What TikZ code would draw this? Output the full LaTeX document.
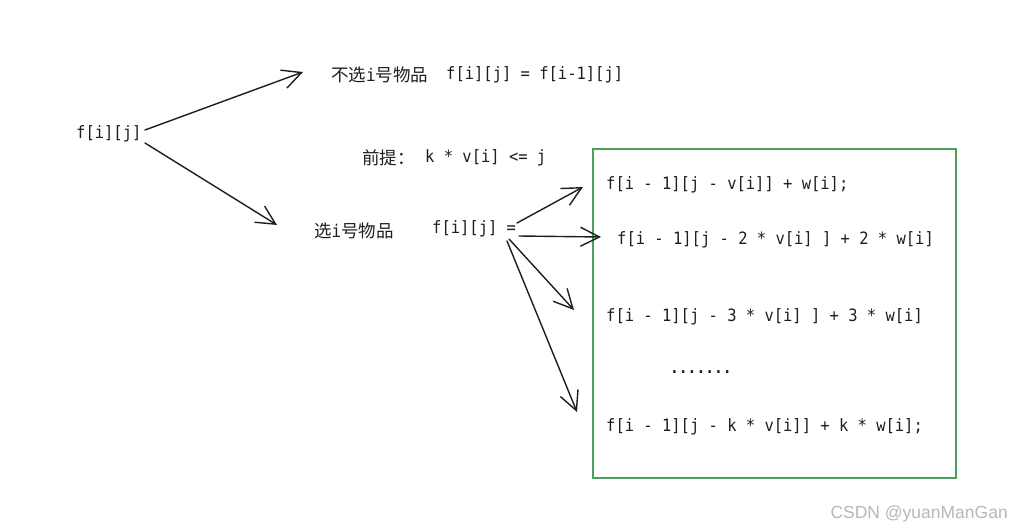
\documentclass[tikz,border=0pt]{standalone}
\usepackage{fontspec}
\setmainfont{DejaVu Sans Mono}
\newfontfamily\hand[FakeStretch=0.91]{DejaVu Sans Mono}
\newfontfamily\cjk{Noto Sans CJK SC}
\newfontfamily\wm{Liberation Sans}
\usetikzlibrary{arrows.meta}
\definecolor{ink}{HTML}{1E1E1E}
\definecolor{boxgreen}{RGB}{76,160,90}
\begin{document}
\begin{tikzpicture}[x=1pt,y=-1pt,
  txt/.style={anchor=west,inner sep=0pt,font=\hand\fontsize{17}{20}\selectfont,text=ink},
  cn/.style={anchor=west,inner sep=0pt,font=\cjk\fontsize{17.5}{20}\selectfont,text=ink},
  arr/.style={draw=ink,line width=1.4pt,line cap=round,-{Straight Barb[length=19pt,width=19pt,line width=1.4pt]}},
]
\useasboundingbox (0,0) rectangle (1011,532);
\fill[white] (0,0) rectangle (1011,532);

% left root
\node[txt] (root) at (76,134) {f[i][j]};

% top branch
\node[cn] (nosel) at (331,75) {不选{\hand i}号物品};
\node[txt] (noseleq) at (446,75) {f[i][j] = f[i-1][j]};

% condition
\node[cn] (premise) at (362,158) {前提：};
\node[txt] (cond) at (425,158) {k * v[i] <= j};

% bottom branch
\node[cn] (sel) at (314,231) {选{\hand i}号物品};
\node[txt] (seleq) at (432,229) {f[i][j] =};

% green box
\node[draw=boxgreen,line width=1.5pt,anchor=north west,minimum width=363pt,minimum height=329pt,inner sep=0pt] (box) at (592,148) {};

\node[txt] (l1) at (606,185) {f[i - 1][j - v[i]] + w[i];};
\node[txt] (l2) at (617,240) {f[i - 1][j - 2 * v[i] ] + 2 * w[i]};
\node[txt] (l3) at (606,317) {f[i - 1][j - 3 * v[i] ] + 3 * w[i]};
\node[anchor=west,inner sep=0pt,font=\hand\bfseries\fontsize{16}{18}\selectfont,text=ink] (dots) at (670,372) {.......};
\node[txt] (lk) at (606,427) {f[i - 1][j - k * v[i]] + k * w[i];};

% watermark
\node[anchor=east,inner sep=0pt,font=\wm\fontsize{17.5}{20}\selectfont,text=black!28] (wmark) at (1008,514) {CSDN @yuanManGan};

% arrow coordinates
\coordinate (r1) at (145,130);
\coordinate (r2) at (145,143);
\coordinate (t1) at (303,72);
\coordinate (t2) at (277,225);
\coordinate (e1) at (517,223);
\coordinate (e2) at (519,236);
\coordinate (e3) at (509,239);
\coordinate (e4) at (507,241);
\coordinate (h1) at (583,187);
\coordinate (h2) at (601,237);
\coordinate (h3) at (574,310);
\coordinate (h4) at (577,412);

\draw[arr] (r1) -- (t1);
\draw[arr] (r2) -- (t2);
\draw[arr] (e1) -- (h1);
\draw[arr] (e2) -- (h2);
\draw[arr] (e3) -- (h3);
\draw[arr] (e4) -- (h4);
\end{tikzpicture}
\end{document}
